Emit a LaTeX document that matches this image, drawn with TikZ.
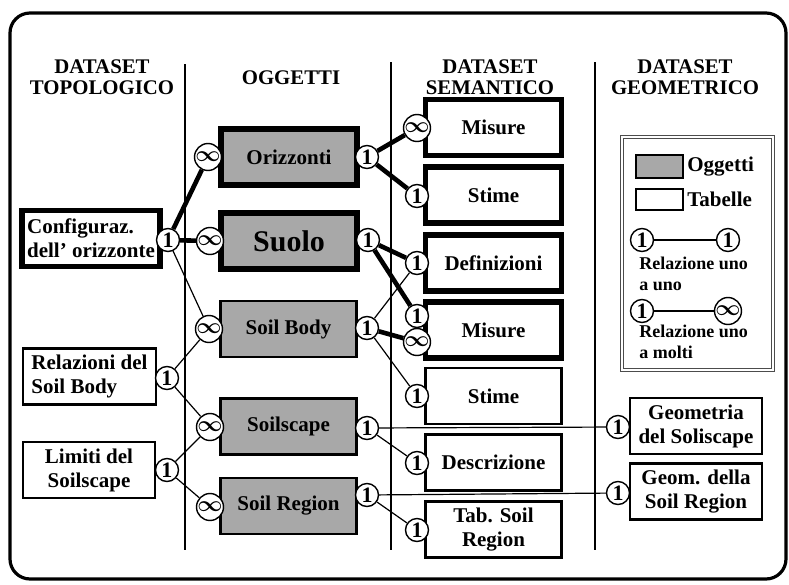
\documentclass[tikz,border=0pt]{standalone}
\usepackage{fontspec}
\setmainfont{Liberation Serif}
\usepackage{tikz}
\usetikzlibrary{positioning}
\definecolor{objgray}{HTML}{A8A8A8}
\newcommand{\infmark}{{\boldmath$\infty$}}

\begin{document}
\begin{tikzpicture}[x=0.5pt, y=-0.5pt,
    box/.style={draw, line width=1.4pt, minimum width=68pt, minimum height=28pt,
                inner sep=2pt, align=center,
                font=\bfseries\fontsize{10.5}{12}\selectfont},
    heavy/.style={line width=2.6pt},
    obj/.style={fill=objgray},
    head/.style={align=center, font=\bfseries\fontsize{10.4}{10.6}\selectfont},
    card/.style={circle, draw, fill=white, line width=0.7pt, minimum size=11.5pt,
                 inner sep=0pt, font=\bfseries\fontsize{11}{11}\selectfont},
    thickrel/.style={line width=2.3pt},
    thinrel/.style={line width=0.6pt},
    legtext/.style={anchor=north west, align=left, inner sep=0pt,
                    font=\bfseries\fontsize{9}{10.5}\selectfont},
  ]
  \useasboundingbox (0,0) rectangle (789,585);
  \draw[line width=1.6pt, rounded corners=10pt] (10,13) rectangle (786,579);

  % column separators
  \draw[line width=0.9pt] (185,64) -- (185,550);
  \draw[line width=1.2pt] (391,62) -- (391,550);
  \draw[line width=0.9pt] (595,62) -- (595,550);

  % headers
  \node[head] (htopo) at (102,77) {DATASET\\TOPOLOGICO};
  \node[head] (hogg) at (291,78) {OGGETTI};
  \node[head] (hsem) at (490,77) {DATASET\\SEMANTICO};
  \node[head] (hgeo) at (685,77) {DATASET\\GEOMETRICO};

  % topological dataset
  \node[box, heavy, align=left, minimum width=69pt] (config) at (91,238.5)
    {Configuraz.\\dell' orizzonte};
  \node[box, align=left, minimum width=66.5pt] (relsb) at (89.5,376.5)
    {Relazioni del\\Soil Body};
  \node[box, minimum width=66pt] (limss) at (89,470) {Limiti del\\Soilscape};

  % objects
  \node[box, heavy, obj] (oriz) at (289,157) {Orizzonti};
  \node[box, heavy, obj, font=\bfseries\fontsize{15}{15}\selectfont] (suolo)
    at (289,241) {Suolo};
  \node[box, obj] (sbody) at (288.5,329) {Soil Body};
  \node[box, obj] (sscape) at (288.5,426.5) {Soilscape};
  \node[box, obj] (sregion) at (288.5,506) {Soil Region};

  % semantic dataset
  \node[box, heavy] (misA) at (493.5,127.5) {Misure};
  \node[box, heavy] (stimA) at (493.5,195) {Stime};
  \node[box, heavy] (defin) at (493.5,263) {Definizioni};
  \node[box, heavy] (misB) at (493.5,330) {Misure};
  \node[box] (stimB) at (493.5,396) {Stime};
  \node[box] (descr) at (493.5,462.5) {Descrizione};
  \node[box] (tabsr) at (493.5,529.5) {Tab. Soil\\Region};

  % geometric dataset
  \node[box, minimum width=66pt] (geoss) at (696,426) {Geometria\\del Soliscape};
  \node[box, minimum width=66pt] (geosr) at (696,491.5) {Geom. della\\Soil Region};

  % cardinality marks
  \node[card] (c-config) at (168,240) {1};
  \node[card] (c-relsb) at (167,378) {1};
  \node[card] (c-limss) at (167,470) {1};
  \node[card] (c-oriz-l) at (208,157) {\infmark};
  \node[card] (c-oriz-r) at (367,157) {1};
  \node[card] (c-suolo-l) at (210,241) {\infmark};
  \node[card] (c-suolo-r) at (368,240) {1};
  \node[card] (c-sbody-l) at (209,329) {\infmark};
  \node[card] (c-sbody-r) at (367,328) {1};
  \node[card] (c-sscape-l) at (210,427) {\infmark};
  \node[card] (c-sscape-r) at (367,428) {1};
  \node[card] (c-sregion-l) at (210,507) {\infmark};
  \node[card] (c-sregion-r) at (367,495) {1};
  \node[card] (c-misA) at (417,128) {\infmark};
  \node[card] (c-stimA) at (417,196) {1};
  \node[card] (c-defin) at (417,263) {1};
  \node[card] (c-misB-1) at (417,316) {1};
  \node[card] (c-misB-m) at (417,342) {\infmark};
  \node[card] (c-stimB) at (417,396) {1};
  \node[card] (c-descr) at (417,463) {1};
  \node[card] (c-tabsr) at (417,530) {1};
  \node[card] (c-geoss) at (618,427) {1};
  \node[card] (c-geosr) at (618,493) {1};

  % relations
  \draw[thickrel] (c-config) -- (c-oriz-l);
  \draw[thickrel] (c-config) -- (c-suolo-l);
  \draw[thinrel] (c-config) -- (c-sbody-l);
  \draw[thinrel] (c-relsb) -- (c-sbody-l);
  \draw[thinrel] (c-relsb) -- (c-sscape-l);
  \draw[thinrel] (c-limss) -- (c-sscape-l);
  \draw[thinrel] (c-limss) -- (c-sregion-l);
  \draw[thickrel] (c-oriz-r) -- (c-misA);
  \draw[thickrel] (c-oriz-r) -- (c-stimA);
  \draw[thickrel] (c-suolo-r) -- (c-defin);
  \draw[thickrel] (c-suolo-r) -- (c-misB-1);
  \draw[thinrel] (c-sbody-r) -- (c-defin);
  \draw[thickrel] (c-sbody-r) -- (c-misB-m);
  \draw[thinrel] (c-sbody-r) -- (c-stimB);
  \draw[thinrel] (c-sscape-r) -- (c-descr);
  \draw[thinrel] (c-sscape-r) -- (c-geoss);
  \draw[thinrel] (c-sregion-r) -- (c-tabsr);
  \draw[thinrel] (c-sregion-r) -- (c-geosr);

  % legend
  \node[draw=black!70, double, double distance=1.2pt, line width=0.5pt,
        minimum width=75.5pt, minimum height=116.5pt] (legend) at (697.5,253.5) {};
  \node[draw, line width=1pt, obj, minimum width=23.5pt, minimum height=11.5pt,
        inner sep=0pt] (swobj) at (659.5,166.5) {};
  \node[right=1.5pt of swobj, inner sep=0pt,
        font=\bfseries\fontsize{10.5}{10.5}\selectfont] (lobj) {Oggetti};
  \node[draw, line width=1pt, minimum width=23.5pt, minimum height=10.5pt,
        inner sep=0pt] (swtab) at (659.5,199.5) {};
  \node[right=1.5pt of swtab, inner sep=0pt,
        font=\bfseries\fontsize{10.5}{10.5}\selectfont] (ltab) {Tabelle};
  \node[card] (lg-oa) at (642,240) {1};
  \node[card] (lg-ob) at (728,240) {1};
  \draw[thinrel] (lg-oa) -- (lg-ob);
  \node[legtext] (lg-otext) at (639,257) {Relazione uno\\a uno};
  \node[card] (lg-ma) at (642,311) {1};
  \node[card] (lg-mb) at (728,311) {\infmark};
  \draw[thinrel] (lg-ma) -- (lg-mb);
  \node[legtext] (lg-mtext) at (639,325) {Relazione uno\\a molti};
\end{tikzpicture}
\end{document}
